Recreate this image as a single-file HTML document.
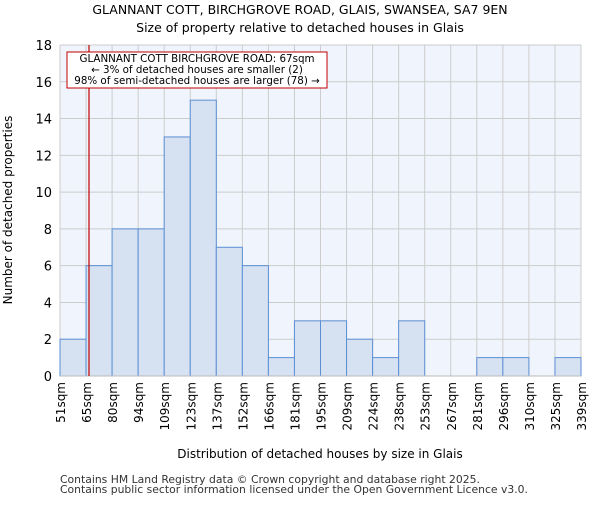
<!DOCTYPE html>
<html><head><meta charset="utf-8"><style>
body{margin:0;background:#fff;font-family:"Liberation Sans","DejaVu Sans",sans-serif}
svg text{font-family:"DejaVu Sans","Liberation Sans",sans-serif}
</style></head><body>
<svg id="c" width="600" height="500">
<text x="300" y="14" text-anchor="middle" font-size="12.5">GLANNANT COTT, BIRCHGROVE ROAD, GLAIS, SWANSEA, SA7 9EN</text>
<text x="300" y="32" text-anchor="middle" font-size="12.5">Size of property relative to detached houses in Glais</text>
<rect x="60" y="45" width="521" height="331" fill="#f0f4fc"/>
<g id="grid"></g><g id="bars"></g><g id="axes"></g>
<text transform="translate(12,210) rotate(-90)" text-anchor="middle" font-size="12">Number of detached properties</text>
<text x="320" y="458" text-anchor="middle" font-size="12">Distribution of detached houses by size in Glais</text>
<text x="60" y="483" font-size="10.8" fill="#333">Contains HM Land Registry data © Crown copyright and database right 2025.</text>
<text x="60" y="493" font-size="10.8" fill="#333">Contains public sector information licensed under the Open Government Licence v3.0.</text>
<line x1="89" y1="45" x2="89" y2="376" stroke="#c00000" stroke-width="1.2"/>
<rect x="67" y="52" width="260" height="36" fill="#fff" stroke="#c00000"/>
<text x="197" y="62" text-anchor="middle" font-size="10.3">GLANNANT COTT BIRCHGROVE ROAD: 67sqm</text>
<text x="197" y="73" text-anchor="middle" font-size="10.3">← 3% of detached houses are smaller (2)</text>
<text x="197" y="84" text-anchor="middle" font-size="10.3">98% of semi-detached houses are larger (78) →</text>
</svg>
<script>
const binLabels=["51sqm","65sqm","80sqm","94sqm","109sqm","123sqm","137sqm","152sqm","166sqm","181sqm","195sqm","209sqm","224sqm","238sqm","253sqm","267sqm","281sqm","296sqm","310sqm","325sqm","339sqm"];
const counts=[2,6,8,8,13,15,7,6,1,3,3,2,1,3,0,0,1,1,0,1];
const yTicks=[0,2,4,6,8,10,12,14,16,18];
const X0=60,X1=581,Y0=376,Y1=45,YMAX=18;
const bw=(X1-X0)/counts.length;
const xs=i=>X0+i*bw, ys=v=>Y0-(Y0-Y1)*v/YMAX;
const NS="http://www.w3.org/2000/svg";
function mk(p,t,a){const e=document.createElementNS(NS,t);for(const k in a)e.setAttribute(k,a[k]);p.appendChild(e);return e;}
const g=document.getElementById('grid'),b=document.getElementById('bars'),ax=document.getElementById('axes');
yTicks.forEach(v=>{
 const l=mk(g,'line',{x1:X0,x2:X1,y1:ys(v),y2:ys(v),stroke:'#cccccc'});
 
 
 const t=mk(ax,'text',{x:X0-8,y:ys(v)+5,'text-anchor':'end','font-size':'13'});t.textContent=v;
 
 
});
binLabels.forEach((s,i)=>{
 const l=mk(g,'line',{x1:xs(i),x2:xs(i),y1:Y1,y2:Y0,stroke:'#cccccc'});
 
 
 const t=mk(ax,'text',{transform:`translate(${xs(i)+5},${Y0+6}) rotate(-90)`,'text-anchor':'end','font-size':'12'});t.textContent=s;
 
 
});
counts.forEach((v,i)=>{
 if(v<=0)return;
 const r=mk(b,'rect',{x:xs(i),y:ys(v),width:bw,height:Y0-ys(v),fill:'#d6e1f2',stroke:'#5b8fd4','stroke-width':1});
 
 
});
const a=mk(ax,'line',{x1:X0,x2:X1,y1:Y0,y2:Y0,stroke:'#bbbbbb'});


</script>
</body></html>
